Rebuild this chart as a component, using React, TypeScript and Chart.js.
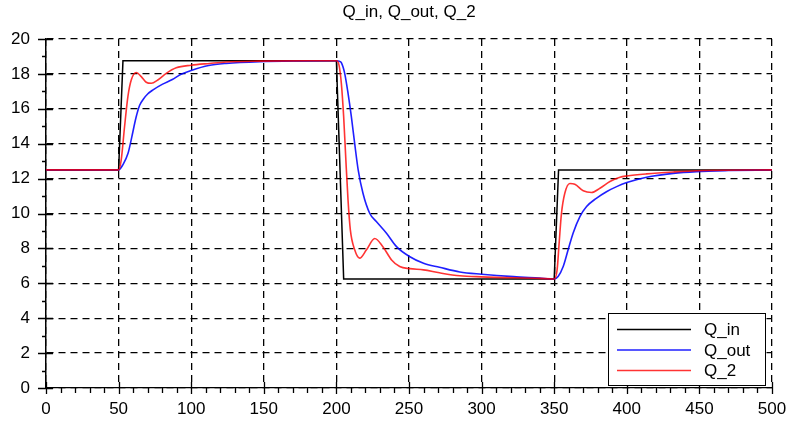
import React, { useEffect, useRef } from "react";
import { Chart, registerables } from "chart.js";

Chart.register(...registerables);

// ---------------- data ----------------
const TITLE = "Q_in, Q_out, Q_2";
const SERIES_NAMES = ["Q_in", "Q_out", "Q_2"];
const X_TICKS = [0, 50, 100, 150, 200, 250, 300, 350, 400, 450, 500];
const Y_TICKS = [0, 2, 4, 6, 8, 10, 12, 14, 16, 18, 20];

const QIN_T = [0, 50, 53, 200, 205, 350, 353, 500];
const QIN_V = [12.5, 12.5, 18.75, 18.75, 6.25, 6.25, 12.5, 12.5];

const QOUT_T = [
  0, 50, 53, 56.5, 59, 62, 64.5, 67, 70, 74, 80, 87, 93, 100, 112, 124, 147, 175, 200,
  202, 203.4, 205.7, 208, 210.3, 212.6, 215, 218.3, 223, 227.5, 234.5, 241.4, 250, 260,
  271, 285, 300, 322, 340, 350, 352.7, 356.2, 359.6, 363, 367.7, 372.3, 379, 386, 393,
  400, 413.6, 432, 448, 470, 500,
];
const QOUT_V = [
  12.5, 12.5, 12.8, 13.45, 14.35, 15.5, 16.2, 16.55, 16.85, 17.1, 17.4, 17.68, 17.98,
  18.2, 18.48, 18.6, 18.7, 18.74, 18.75, 18.72, 18.64, 18.03, 16.9, 15.55, 14.0, 12.5,
  11.16, 10.0, 9.54, 8.87, 8.1, 7.55, 7.15, 6.92, 6.65, 6.52, 6.38, 6.3, 6.25, 6.39,
  6.96, 7.92, 8.87, 9.82, 10.4, 10.87, 11.25, 11.54, 11.77, 12.08, 12.3, 12.4, 12.46,
  12.5,
];

const Q2_T = [
  0, 50, 51.8, 54.1, 56.4, 58.7, 62.2, 65.6, 69, 72.5, 77, 82.8, 89.7, 100, 112.7, 124,
  147, 180, 200, 201.8, 203.4, 205, 206.4, 208, 209.6, 212.6, 216, 220.7, 226.4, 232,
  238, 243.6, 250.5, 260, 271, 285, 300, 340, 350, 352, 353.4, 355, 357.3, 360.8, 364.2,
  370, 375.7, 381.5, 388.4, 395.3, 400, 413.6, 432, 448, 500,
];
const Q2_V = [
  12.5, 12.5, 13.07, 14.97, 16.7, 17.65, 18.08, 17.84, 17.52, 17.46, 17.65, 18.03, 18.35,
  18.5, 18.6, 18.68, 18.73, 18.75, 18.75, 18.5, 17.46, 15.55, 13.26, 10.78, 9.06, 7.92,
  7.44, 7.92, 8.57, 8.1, 7.34, 6.96, 6.84, 6.77, 6.6, 6.43, 6.37, 6.28, 6.25, 6.77, 8.3,
  10.0, 11.16, 11.72, 11.68, 11.3, 11.2, 11.45, 11.83, 12.08, 12.15, 12.27, 12.38, 12.45,
  12.5,
];

// ---------------- styling ----------------
const FONT_FAMILY = "'Liberation Sans', Arial, sans-serif";
const FONT_SIZE = 17;

const toPoints = (ts: number[], vs: number[]) => ts.map((t, i) => ({ x: t, y: vs[i] }));

const tickMarksPlugin = {
  id: "tickMarks",
  afterDraw(chart: any) {
    const { ctx, chartArea } = chart;
    const xs = chart.scales.x;
    const ys = chart.scales.y;
    ctx.save();
    ctx.strokeStyle = "#000";
    ctx.lineWidth = 1.3;
    ctx.beginPath();
    const xMin = X_TICKS[0];
    const xMax = X_TICKS[X_TICKS.length - 1];
    const xMinor = (X_TICKS[1] - X_TICKS[0]) / 5;
    for (let v = xMin; v <= xMax + 1e-9; v += xMinor) {
      const px = Math.round(xs.getPixelForValue(v)) + 0.5;
      const major = X_TICKS.some((t) => Math.abs(t - v) < 1e-6);
      ctx.moveTo(px, chartArea.bottom - (major ? 6 : 0));
      ctx.lineTo(px, chartArea.bottom + (major ? 6 : 5));
    }
    const yMin = Y_TICKS[0];
    const yMax = Y_TICKS[Y_TICKS.length - 1];
    const yMinor = (Y_TICKS[1] - Y_TICKS[0]) / 2;
    for (let v = yMin; v <= yMax + 1e-9; v += yMinor) {
      const py = Math.round(ys.getPixelForValue(v)) + 0.5;
      const major = Y_TICKS.some((t) => Math.abs(t - v) < 1e-6);
      ctx.moveTo(chartArea.left - (major ? 8 : 4), py);
      ctx.lineTo(chartArea.left + (major ? 7 : 0), py);
    }
    ctx.stroke();
    ctx.restore();
  },
};

const boxLegendPlugin = {
  id: "boxLegend",
  afterDraw(chart: any) {
    const { ctx, chartArea } = chart;
    const w = 157;
    const h = 72;
    const x0 = Math.round(chartArea.right) - 164;
    const y0 = Math.round(chartArea.bottom) - 75;
    ctx.save();
    ctx.fillStyle = "#fff";
    ctx.fillRect(x0, y0, w, h);
    ctx.strokeStyle = "#000";
    ctx.lineWidth = 1;
    ctx.strokeRect(x0 + 0.5, y0 + 0.5, w, h);
    chart.data.datasets.forEach((ds: any, i: number) => {
      const y = y0 + 16.5 + i * 20.5;
      ctx.strokeStyle = ds.borderColor;
      ctx.lineWidth = 1.5;
      ctx.beginPath();
      ctx.moveTo(x0 + 9, y);
      ctx.lineTo(x0 + 83, y);
      ctx.stroke();
      ctx.fillStyle = "#000";
      ctx.font = `${FONT_SIZE}px ${FONT_FAMILY}`;
      ctx.textAlign = "left";
      ctx.textBaseline = "middle";
      ctx.fillText(ds.label, x0 + 96, y + 1);
    });
    ctx.restore();
  },
};

export default function App() {
  const canvasRef = useRef<HTMLCanvasElement | null>(null);

  useEffect(() => {
    if (!canvasRef.current) return;
    const chart = new Chart(canvasRef.current, {
      type: "line",
      data: {
        datasets: [
          {
            label: SERIES_NAMES[0],
            data: toPoints(QIN_T, QIN_V),
            borderColor: "#000000",
            borderWidth: 1.5,
            pointRadius: 0,
            tension: 0,
            order: 3,
          },
          {
            label: SERIES_NAMES[1],
            data: toPoints(QOUT_T, QOUT_V),
            borderColor: "rgba(0,0,255,0.88)",
            borderWidth: 1.6,
            pointRadius: 0,
            cubicInterpolationMode: "monotone",
            order: 2,
          },
          {
            label: SERIES_NAMES[2],
            data: toPoints(Q2_T, Q2_V),
            borderColor: "rgba(255,0,0,0.8)",
            borderWidth: 1.6,
            pointRadius: 0,
            cubicInterpolationMode: "monotone",
            order: 1,
          },
        ],
      },
      options: {
        responsive: false,
        animation: false,
        devicePixelRatio: 1,
        layout: { padding: { left: 0, right: 14, top: 0, bottom: 0 } },
        plugins: {
          legend: { display: false },
          tooltip: { enabled: false },
          title: {
            display: true,
            text: TITLE,
            fullSize: false,
            color: "#000",
            font: { family: FONT_FAMILY, size: FONT_SIZE, weight: "normal", lineHeight: 1.2 },
            padding: { top: 2, bottom: 16.6 },
          },
        },
        scales: {
          x: {
            type: "linear",
            min: X_TICKS[0],
            max: X_TICKS[X_TICKS.length - 1],
            afterBuildTicks: (s: any) => {
              s.ticks = X_TICKS.map((v) => ({ value: v }));
            },
            afterFit: (s: any) => {
              s.height = 35;
              s.paddingLeft = 0;
              s.paddingRight = 0;
            },
            ticks: {
              color: "#000",
              padding: 11,
              maxRotation: 0,
              autoSkip: false,
              font: { family: FONT_FAMILY, size: FONT_SIZE },
            },
            grid: { color: "#000", lineWidth: 1.3, drawTicks: false },
            border: { display: true, color: "#000", width: 1.3, dash: [7, 5] },
          },
          y: {
            type: "linear",
            min: Y_TICKS[0],
            max: Y_TICKS[Y_TICKS.length - 1],
            afterBuildTicks: (s: any) => {
              s.ticks = Y_TICKS.map((v) => ({ value: v }));
            },
            afterFit: (s: any) => {
              s.width = 46;
              s.paddingTop = 0;
              s.paddingBottom = 0;
            },
            ticks: {
              color: "#000",
              padding: 16,
              autoSkip: false,
              font: { family: FONT_FAMILY, size: FONT_SIZE },
            },
            grid: { color: "#000", lineWidth: 1.3, drawTicks: false },
            border: { display: true, color: "#000", width: 1.5, dash: [7, 5] },
          },
        },
      },
      plugins: [tickMarksPlugin, boxLegendPlugin],
    } as any);
    return () => chart.destroy();
  }, []);

  return (
    <div style={{ position: "absolute", left: 0, top: 0, width: 786, height: 423, background: "#fff" }}>
      <canvas ref={canvasRef} width={786} height={423} style={{ display: "block" }} />
    </div>
  );
}
